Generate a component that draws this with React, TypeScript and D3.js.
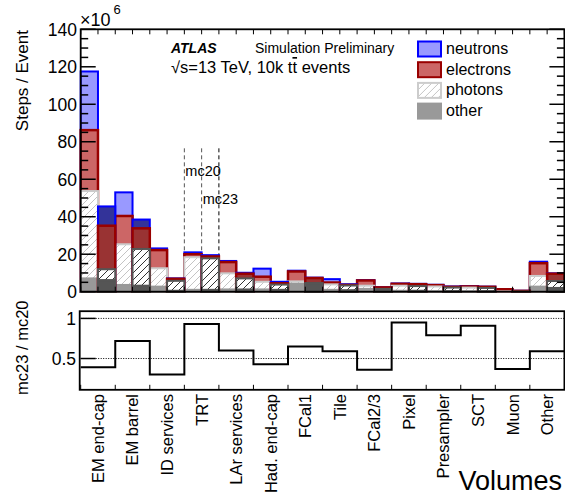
import React from 'react';
import * as d3 from 'd3';

// volumes, in the order they are drawn
const categories = ['EM end-cap', 'EM barrel', 'ID services', 'TRT', 'LAr services', 'Had. end-cap',
    'FCal1', 'Tile', 'FCal2/3', 'Pixel', 'Presampler', 'SCT', 'Muon', 'Other'];

// steps per event (x10^6), mc20
const other20 = [7.1, 3.6, 2.7, 1.0, 1.2, 1.2, 4.3, 1.0, 1.5, 0.5, 0.3, 0.3, 0.0, 2.7];
const photons20 = [46.6, 21.7, 9.8, 17.4, 8.6, 4.1, 1.2, 2.9, 1.7, 2.7, 2.5, 1.9, 0.2, 5.7];
const electrons20 = [32.5, 15.1, 9.7, 1.6, 6.0, 2.7, 5.3, 1.0, 2.8, 1.0, 0.7, 0.6, 1.1, 6.8];
const neutrons20 = [31.3, 12.6, 0.9, 1.0, 0.6, 4.3, 0.4, 1.8, 0.2, 0.2, 0.2, 0.2, 0.1, 0.8];

// mc23
const other23 = [6.2, 3.2, 0.5, 1.0, 1.2, 1.0, 4.3, 0.8, 1.2, 0.5, 0.3, 0.3, 0.0, 2.0];
const photons23 = [5.8, 19.6, 5.3, 16.8, 5.9, 2.8, 0.3, 2.5, 0.3, 2.5, 1.9, 1.7, 0.1, 3.7];
const electrons23 = [23.2, 11.0, 1.1, 1.0, 2.5, 0.7, 2.7, 0.3, 0.8, 1.0, 0.4, 0.6, 0.35, 3.9];
const neutrons23 = [10.3, 4.7, 0.2, 0.7, 0.5, 0.8, 0.2, 0.4, 0.1, 0.2, 0.2, 0.1, 0.05, 0.2];

// mc23 / mc20 as plotted in the lower pad
const ratio = [0.39, 0.72, 0.30, 0.93, 0.60, 0.43, 0.65, 0.59, 0.36, 0.95, 0.79, 0.91, 0.37, 0.59];

const yTicks = [0, 20, 40, 60, 80, 100, 120, 140];
const ratioTicks = [0.5, 1];
const keys = ['other', 'photons', 'electrons', 'neutrons'];
const legendNames = ['neutrons', 'electrons', 'photons', 'other'];

const W = 565, H = 496;
const font = 'Liberation Sans, Arial, Helvetica, sans-serif';

const styles = {
    mc20: {
        neutrons: {fill: '#9999ff', stroke: '#0000ff'},
        electrons: {fill: '#cc6666', stroke: '#990000'},
        photons: {fill: 'url(#hatch20)', stroke: '#cccccc'},
        other: {fill: '#999999', stroke: '#999999'},
    },
    mc23: {
        neutrons: {fill: '#333399', stroke: '#0000ff'},
        electrons: {fill: '#993333', stroke: '#990000'},
        photons: {fill: 'url(#hatch23)', stroke: '#555555'},
        other: {fill: '#555555', stroke: '#555555'},
    }
};

function stackRun(o, p, e, n) {
    const rows = categories.map((c, i) => ({other: o[i], photons: p[i], electrons: e[i], neutrons: n[i]}));
    return d3.stack().keys(keys)(rows);
}

export default function App() {
    const left = 80.7, right = 564.4;
    const x = d3.scaleBand().domain(categories).range([left, right]).paddingInner(0).paddingOuter(0);
    const bw = x.bandwidth();
    const y = d3.scaleLinear().domain([0, 140]).range([291.7, 29.3]);
    const yr = d3.scaleLinear().domain([0.11, 1.09]).range([389.8, 311.2]);

    const runs = [
        {name: 'mc20', offset: 0, stack: stackRun(other20, photons20, electrons20, neutrons20)},
        {name: 'mc23', offset: bw / 2, stack: stackRun(other23, photons23, electrons23, neutrons23)},
    ];

    // bins: draw the cumulative histograms from the top species down, like THStack
    const bars = [];
    runs.forEach(run => {
        [...run.stack].reverse().forEach(layer => {
            const st = styles[run.name][layer.key];
            layer.forEach((d, i) => {
                const x0 = x(categories[i]) + run.offset;
                bars.push(
                    <rect key={run.name + layer.key + i} x={x0} y={y(d[1])} width={bw / 2}
                          height={y(0) - y(d[1])} fill={st.fill} stroke={st.stroke}
                          strokeWidth={layer.key === 'electrons' ? 2.5 : 2}/>
                );
            });
        });
    });

    const edges = d3.range(categories.length * 2 + 1).map(k => left + k * bw / 2);
    const minor = d3.range(0, 141, 5).filter(v => v % 20 !== 0);

    const ratioPts = [];
    categories.forEach((c, i) => {
        ratioPts.push([x(c), yr(ratio[i])]);
        ratioPts.push([x(c) + bw, yr(ratio[i])]);
    });
    const ratioLine = d3.line()(ratioPts);

    const trt = x('TRT');
    const dashed = [{x: trt, c: '#555'}, {x: trt + bw / 2, c: '#555'}, {x: trt + bw, c: '#000'}];

    return (
        <svg width={W} height={H} style={{position: 'absolute', left: 0, top: 0}} fontFamily={font}>
            <defs>
                <pattern id="hatch20" patternUnits="userSpaceOnUse" width="7" height="7">
                    <rect width="7" height="7" fill="#fff"/>
                    <path d="M-1,1 l2,-2 M0,7 l7,-7 M6,8 l2,-2" stroke="#c4c4c4" strokeWidth="1"/>
                </pattern>
                <pattern id="hatch23" patternUnits="userSpaceOnUse" width="7" height="7">
                    <rect width="7" height="7" fill="#fff"/>
                    <path d="M-1,1 l2,-2 M0,7 l7,-7 M6,8 l2,-2" stroke="#333" strokeWidth="1"/>
                </pattern>
            </defs>
            <rect width={W} height={H} fill="#fff"/>

            {/* markers for the TRT bins */}
            {dashed.map((d, i) => (
                <line key={i} x1={d.x} x2={d.x} y1={y(76.5)} y2={y(0)} stroke={d.c} strokeWidth={1}
                      strokeDasharray="4,3"/>
            ))}
            <text x={trt + 1} y={176} fontSize={14.5}>mc20</text>
            <text x={trt + bw / 2 + 1} y={204} fontSize={14.5}>mc23</text>

            {bars}

            {/* main frame and axes */}
            <rect x={left} y={y(140)} width={right - left} height={y(0) - y(140)} fill="none" stroke="#000"
                  strokeWidth={1.8}/>
            {edges.map((e, i) => (
                <g key={i}>
                    <line x1={e} x2={e} y1={y(140)} y2={y(140) + 5} stroke="#000"/>
                    <line x1={e} x2={e} y1={y(0)} y2={y(0) - 5} stroke="#000"/>
                </g>
            ))}
            {yTicks.map(t => (
                <g key={t}>
                    <line x1={left} x2={left + 15} y1={y(t)} y2={y(t)} stroke="#000" strokeWidth={1.5}/>
                    <line x1={right} x2={right - 15} y1={y(t)} y2={y(t)} stroke="#000" strokeWidth={1.5}/>
                    <text x={77} y={y(t)} dy="0.36em" textAnchor="end" fontSize={17.5}>{t}</text>
                </g>
            ))}
            {minor.map(t => (
                <g key={t}>
                    <line x1={left} x2={left + 7.5} y1={y(t)} y2={y(t)} stroke="#000" strokeWidth={1.5}/>
                    <line x1={right} x2={right - 7.5} y1={y(t)} y2={y(t)} stroke="#000" strokeWidth={1.5}/>
                </g>
            ))}
            <text x={80} y={26} fontSize={18}>×10</text>
            <text x={113.5} y={14} fontSize={13}>6</text>
            <text transform="translate(28,30) rotate(-90)" textAnchor="end" fontSize={17}>Steps / Event</text>

            {/* labels and legend */}
            <text x={171} y={53} fontSize={14} fontWeight="bold" fontStyle="italic">ATLAS</text>
            <text x={255} y={53} fontSize={14}>Simulation Preliminary</text>
            <text x={171} y={73} fontSize={16.5}>√s=13 TeV, 10k t<tspan textDecoration="overline">t</tspan> events</text>
            {legendNames.map((n, i) => {
                const st = styles.mc20[n];
                return (
                    <g key={n} transform={`translate(418,${41.5 + i * 20.7})`}>
                        <rect width={23} height={15} fill={st.fill} stroke={st.stroke} strokeWidth={2}/>
                        <text x={28} y={12.3} fontSize={16}>{n}</text>
                    </g>
                );
            })}

            {/* ratio pad */}
            {ratioTicks.map(t => (
                <line key={t} x1={left} x2={right} y1={yr(t)} y2={yr(t)} stroke="#000" strokeWidth={1}
                      strokeDasharray="1,1.5"/>
            ))}
            <path d={ratioLine} fill="none" stroke="#000" strokeWidth={2}/>
            <rect x={left - 1} y={yr(1.09)} width={right - left + 1} height={yr(0.11) - yr(1.09)} fill="none"
                  stroke="#000" strokeWidth={1.8}/>
            {categories.map((c, i) => (
                <line key={c} x1={x(c)} x2={x(c)} y1={yr(0.11)} y2={yr(0.11) - 5} stroke="#000"/>
            ))}
            {ratioTicks.map(t => (
                <g key={t}>
                    <line x1={left} x2={left + 15} y1={yr(t)} y2={yr(t)} stroke="#000" strokeWidth={1.5}/>
                    <text x={76} y={yr(t)} dy="0.36em" textAnchor="end" fontSize={17.5}>{t}</text>
                </g>
            ))}
            <text transform="translate(28,300.5) rotate(-90)" textAnchor="end" fontSize={16.5}>mc23 / mc20</text>
            {categories.map(c => (
                <text key={c} transform={`translate(${x(c) + bw / 2},394) rotate(-90)`} dy="0.36em"
                      textAnchor="end" fontSize={16.5}>{c}</text>
            ))}
            <text x={562} y={490} textAnchor="end" fontSize={27}>Volumes</text>
        </svg>
    );
}
